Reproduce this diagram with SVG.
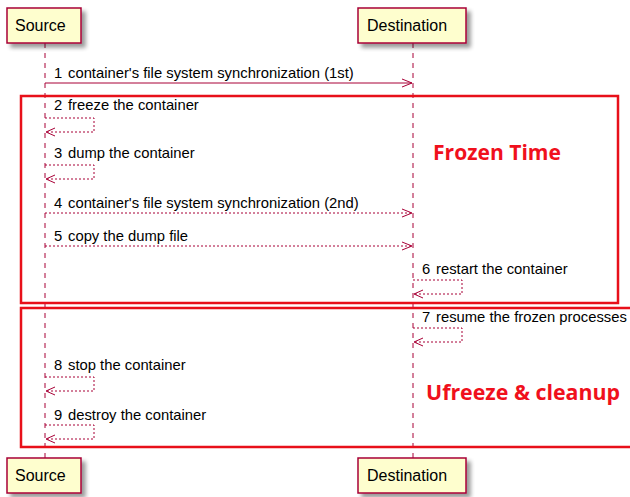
<svg xmlns="http://www.w3.org/2000/svg" width="630" height="497" viewBox="0 0 630 497">
<defs>
<filter id="sh" x="-20%" y="-20%" width="150%" height="160%"><feGaussianBlur in="SourceAlpha" stdDeviation="2"/><feOffset dx="4" dy="4"/><feComponentTransfer><feFuncA type="linear" slope="0.4"/></feComponentTransfer><feMerge><feMergeNode/><feMergeNode in="SourceGraphic"/></feMerge></filter>
</defs>
<style>
.part{fill:#FEFECE;stroke:#A80036;stroke-width:1.5}
.pt{font-family:"Liberation Sans",Arial,sans-serif;font-size:16px;fill:#000}
.life{stroke:#A80036;stroke-width:1;stroke-dasharray:5,5;fill:none}
.msg{stroke:#A80036;stroke-width:1;fill:none}
.dot{stroke-dasharray:2,2}
.ah{stroke:#A80036;stroke-width:1;fill:none}
.mt{font-family:"Liberation Sans",Arial,sans-serif;font-size:14.8px;fill:#000}
.frame{fill:none;stroke:#E8101A;stroke-width:2.5}
.big{font-family:"Open Sans","Liberation Sans",sans-serif;font-weight:bold;font-size:21px;fill:#F0101C}
</style>
<rect width="630" height="497" fill="#fff"/>
<g id="lifelines">
<line class="life" x1="45" y1="43" x2="45" y2="458"/>
<line class="life" x1="413" y1="43" x2="413" y2="458"/>
</g>
<g id="frames">
<rect class="frame" x="21" y="96" width="597" height="207"/>
<path class="frame" d="M632,308 H21 V447 H632"/>
<text class="big" x="433" y="160" textLength="128" lengthAdjust="spacingAndGlyphs">Frozen Time</text>
<text class="big" x="426" y="400" textLength="194" lengthAdjust="spacingAndGlyphs">Ufreeze &amp; cleanup</text>
</g>
<g id="source-top"><rect class="part" x="7" y="8" width="74" height="35" filter="url(#sh)"/><text class="pt" x="15" y="31">Source</text></g>
<g id="dest-top"><rect class="part" x="358" y="8" width="108" height="35" filter="url(#sh)"/><text class="pt" x="367" y="31">Destination</text></g>
<g id="source-bottom"><rect class="part" x="7" y="458" width="74" height="35" filter="url(#sh)"/><text class="pt" x="15" y="481">Source</text></g>
<g id="dest-bottom"><rect class="part" x="358" y="458" width="108" height="35" filter="url(#sh)"/><text class="pt" x="367" y="481">Destination</text></g>
<g id="connectors">
<line class="msg" x1="45" y1="83" x2="412" y2="83"/>
<path class="ah" d="M402,79 L412,83 L402,87"/>
<path class="msg dot" d="M45,118 H94 V132 H46"/>
<path class="ah" d="M55,128 L46,132 L55,136"/>
<path class="msg dot" d="M45,165 H94 V179 H46"/>
<path class="ah" d="M55,175 L46,179 L55,183"/>
<line class="msg dot" x1="45" y1="213" x2="412" y2="213"/>
<path class="ah" d="M402,209 L412,213 L402,217"/>
<line class="msg dot" x1="45" y1="246" x2="412" y2="246"/>
<path class="ah" d="M402,242 L412,246 L402,250"/>
<path class="msg dot" d="M413,280 H462 V294 H414"/>
<path class="ah" d="M423,290 L414,294 L423,298"/>
<path class="msg dot" d="M413,328 H462 V342 H414"/>
<path class="ah" d="M423,338 L414,342 L423,346"/>
<path class="msg dot" d="M45,377 H94 V391 H46"/>
<path class="ah" d="M55,387 L46,391 L55,395"/>
<path class="msg dot" d="M45,425 H94 V439 H46"/>
<path class="ah" d="M55,435 L46,439 L55,443"/>
</g>
<g id="labels">
<text class="mt" y="78"><tspan x="54">1</tspan><tspan x="68">container's file system synchronization (1st)</tspan></text>
<text class="mt" y="110"><tspan x="54">2</tspan><tspan x="68">freeze the container</tspan></text>
<text class="mt" y="158"><tspan x="54">3</tspan><tspan x="68">dump the container</tspan></text>
<text class="mt" y="208"><tspan x="54">4</tspan><tspan x="68">container's file system synchronization (2nd)</tspan></text>
<text class="mt" y="241"><tspan x="54">5</tspan><tspan x="68">copy the dump file</tspan></text>
<text class="mt" y="274"><tspan x="422">6</tspan><tspan x="436">restart the container</tspan></text>
<text class="mt" y="322"><tspan x="422">7</tspan><tspan x="436">resume the frozen processes</tspan></text>
<text class="mt" y="370"><tspan x="54">8</tspan><tspan x="68">stop the container</tspan></text>
<text class="mt" y="420"><tspan x="54">9</tspan><tspan x="68">destroy the container</tspan></text>
</g>
</svg>
